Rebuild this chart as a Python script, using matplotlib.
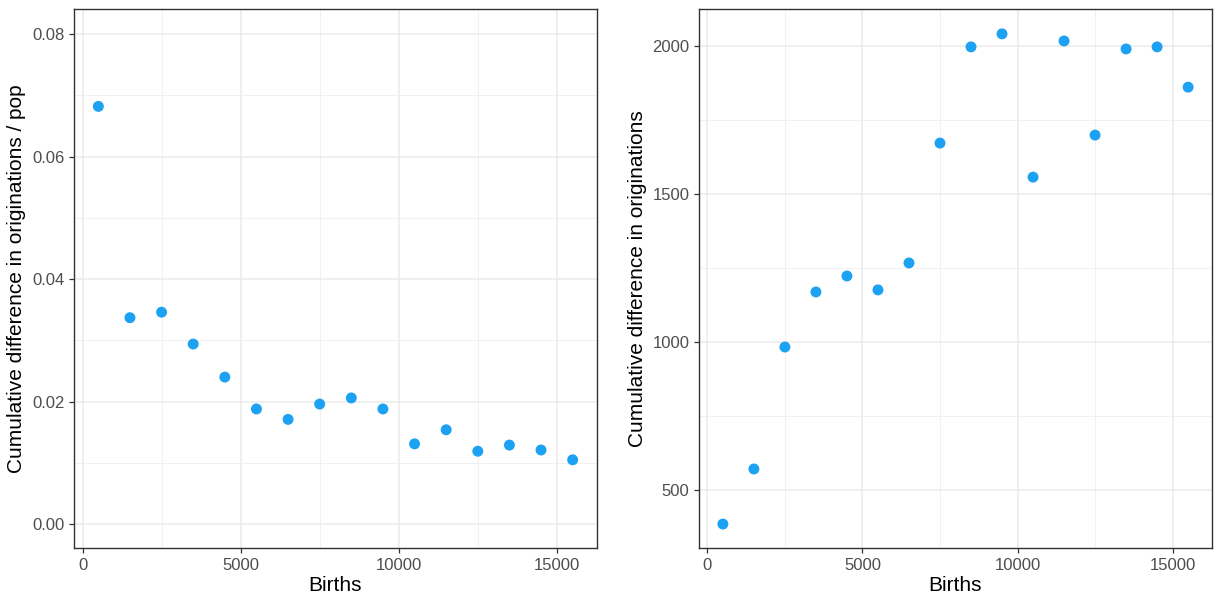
"""Two scatter panels: cumulative origination difference vs births."""
import matplotlib
matplotlib.use("Agg")
import matplotlib.pyplot as plt
from matplotlib.ticker import FixedLocator

plt.rcParams["font.family"] = ["Liberation Sans", "DejaVu Sans"]

births = [500, 1500, 2500, 3500, 4500, 5500, 6500, 7500,
          8500, 9500, 10500, 11500, 12500, 13500, 14500, 15500]
diff_per_pop = [0.0682, 0.0337, 0.0346, 0.0294, 0.0240, 0.0188, 0.0171, 0.0196,
                0.0206, 0.0188, 0.0131, 0.0154, 0.0119, 0.0129, 0.0121, 0.0105]
diff_total = [385, 571, 983, 1169, 1223, 1176, 1267, 1672,
              1997, 2041, 1557, 2017, 1699, 1990, 1997, 1861]

PT = "#1DA1F2"; INK = "#333333"; TICK = "#4D4D4D"
W, H = 1215, 597

fig = plt.figure(figsize=(W / 100, H / 100), dpi=100)
fig.patch.set_facecolor("white")


def panel(rect_px, y, ylim, ymajor, yminor, ylabel, fmt):
    x0, y0, x1, y1 = rect_px
    ax = fig.add_axes([x0 / W, 1 - y1 / H, (x1 - x0) / W, (y1 - y0) / H])
    ax.set_xlim(-270, 16270); ax.set_ylim(*ylim)
    ax.xaxis.set_major_locator(FixedLocator([0, 5000, 10000, 15000]))
    ax.xaxis.set_minor_locator(FixedLocator([2500, 7500, 12500]))
    ax.yaxis.set_major_locator(FixedLocator(ymajor))
    ax.yaxis.set_minor_locator(FixedLocator(yminor))
    ax.yaxis.set_major_formatter(plt.FuncFormatter(lambda v, _: fmt.format(v)))
    ax.grid(which="major", color="#EBEBEB", lw=1.1, zorder=0)
    ax.grid(which="minor", color="#EFEFEF", lw=0.6, zorder=0)
    ax.set_axisbelow(True)
    for s in ax.spines.values():
        s.set_color(INK); s.set_linewidth(1.0)
    ax.tick_params(which="major", length=3.5, width=0.9, color=INK,
                   labelcolor=TICK, labelsize=12, pad=3.5)
    ax.tick_params(which="minor", length=0)
    ax.scatter(births, y, s=62, color=PT, edgecolors="none", zorder=3)
    ax.set_xlabel("Births", fontsize=15, color="black", labelpad=2.5)
    ax.set_ylabel(ylabel, fontsize=15, color="black", labelpad=4)
    return ax


panel((74, 9, 597, 548), diff_per_pop, (-0.0039, 0.0841),
      [0.0, 0.02, 0.04, 0.06, 0.08], [0.01, 0.03, 0.05, 0.07],
      "Cumulative difference in originations / pop", "{:.2f}")
panel((699, 9, 1212, 548), diff_total, (304, 2125),
      [500, 1000, 1500, 2000], [750, 1250, 1750],
      "Cumulative difference in originations", "{:.0f}")

fig.savefig("out.png", dpi=100)
